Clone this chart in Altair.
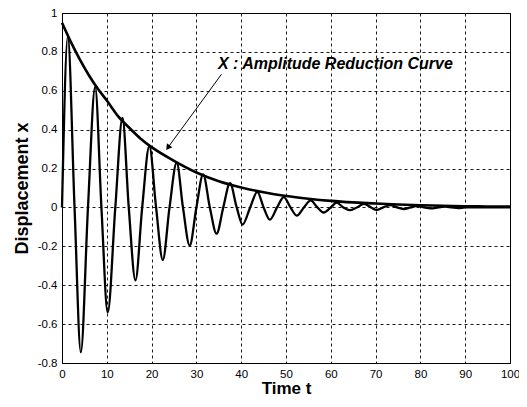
import altair as alt
import pandas as pd

# Damped oscillation: peaks, troughs and zero crossings
t_osc = [0, 1.3, 2.8, 4.2, 5.8, 7.4, 8.8, 10.2, 11.9, 13.5, 14.9, 16.4, 17.9, 19.5,
         21.0, 22.5, 24.0, 25.6, 27.0, 28.5, 30.0, 31.5, 33.0, 34.5, 36.0, 37.5,
         39.0, 40.3, 42.0, 43.6, 45.0, 46.4, 48.0, 49.5, 51.0, 52.4, 54.0, 55.5,
         57.0, 58.4, 60.0, 61.3, 62.8, 64.2, 65.8, 67.4, 69.0, 70.2, 71.7, 73.3,
         74.8, 76.2, 77.8, 79.3, 80.8, 82.3, 84.0, 85.5, 87.0, 88.5, 90.0, 100.0]
x_osc = [0, 0.88, 0, -0.745, 0, 0.62, 0, -0.54, 0, 0.46, 0, -0.375, 0, 0.315,
         0, -0.27, 0, 0.23, 0, -0.196, 0, 0.17, 0, -0.135, 0, 0.125,
         0, -0.088, 0, 0.08, 0, -0.063, 0, 0.053, 0, -0.042, 0, 0.036,
         0, -0.026, 0, 0.025, 0, -0.014, 0, 0.018, 0, -0.013, 0, 0.012,
         0, -0.008, 0, 0.008, 0, -0.005, 0, 0.004, 0, -0.003, 0, 0]

# Amplitude reduction curve (envelope)
t_env = [0, 2, 4, 6, 8, 10, 12.5, 15, 17.5, 20, 25, 30, 35, 40, 45, 50, 55, 60,
         65, 70, 75, 80, 85, 90, 95, 100]
x_env = [0.95, 0.85, 0.76, 0.68, 0.61, 0.55, 0.47, 0.41, 0.355, 0.31, 0.24, 0.18,
         0.135, 0.103, 0.078, 0.059, 0.045, 0.034, 0.026, 0.02, 0.015, 0.011,
         0.009, 0.006, 0.005, 0.004]

x_ticks = [0, 10, 20, 30, 40, 50, 60, 70, 80, 90, 100]
y_ticks = [-0.8, -0.6, -0.4, -0.2, 0, 0.2, 0.4, 0.6, 0.8, 1]

annot_text = "X : Amplitude Reduction Curve"
annot_pos = (34.8, 0.738)
arrow_from = (35.6, 0.685)
arrow_to = (23.77, 0.312)

osc = pd.DataFrame({"t": t_osc, "x": x_osc})
env = pd.DataFrame({"t": t_env, "x": x_env})

xs = alt.Scale(domain=[0, 100], nice=False, zero=False)
ys = alt.Scale(domain=[-0.8, 1], nice=False, zero=False)

xaxis = alt.Axis(values=x_ticks, title="Time t", ticks=False, labelPadding=5,
                 titlePadding=1, titleFontSize=17, labelFontSize=11.5,
                 gridDash=[3, 3], gridColor="black", gridOpacity=1, gridWidth=0.9,
                 labelFlush=False, labelOverlap=False)
yaxis = alt.Axis(values=y_ticks, title="Displacement x", ticks=False, labelPadding=5,
                 titlePadding=6, titleFontSize=18, labelFontSize=11.5,
                 gridDash=[3, 3], gridColor="black", gridOpacity=1, gridWidth=0.9,
                 labelFlush=False, labelOverlap=False,
                 labelExpr="datum.value < 0 ? '-' + format(-datum.value, '~g') : format(datum.value, '~g')")

line_osc = alt.Chart(osc).mark_line(interpolate="monotone", color="black", strokeWidth=2.3).encode(
    x=alt.X("t:Q", scale=xs, axis=xaxis),
    y=alt.Y("x:Q", scale=ys, axis=yaxis),
)
line_env = alt.Chart(env).mark_line(interpolate="monotone", color="black", strokeWidth=2.6).encode(
    x=alt.X("t:Q", scale=xs, axis=xaxis),
    y=alt.Y("x:Q", scale=ys, axis=yaxis),
)

ann = pd.DataFrame({"t": [annot_pos[0]], "x": [annot_pos[1]], "label": [annot_text]})
text = alt.Chart(ann).mark_text(align="left", baseline="middle", fontSize=16,
                                fontWeight="bold", fontStyle="italic",
                                font="Liberation Sans", color="black").encode(
    x=alt.X("t:Q", scale=xs, axis=xaxis), y=alt.Y("x:Q", scale=ys, axis=yaxis), text="label:N")

arr = pd.DataFrame({"t": [arrow_from[0]], "x": [arrow_from[1]],
                    "t2": [arrow_to[0]], "x2": [arrow_to[1]]})
rule = alt.Chart(arr).mark_rule(color="black", strokeWidth=1).encode(
    x=alt.X("t:Q", scale=xs, axis=xaxis), y=alt.Y("x:Q", scale=ys, axis=yaxis),
    x2="t2:Q", y2="x2:Q")
head = alt.Chart(arr).mark_point(shape="triangle", filled=True, color="black",
                                 size=45, angle=216, opacity=1).encode(
    x=alt.X("t2:Q", scale=xs, axis=xaxis), y=alt.Y("x2:Q", scale=ys, axis=yaxis))

chart = alt.layer(line_osc, line_env, rule, head, text).properties(
    width=448, height=350,
    autosize=alt.AutoSizeParams(type="none"),
    padding={"left": 54, "top": 5, "right": 9, "bottom": 36},
).configure_view(stroke="black", strokeWidth=1).configure_axis(
    labelFont="Liberation Sans", titleFont="Liberation Sans",
    labelColor="black", titleColor="black", domainColor="black",
    titleFontWeight="bold", labelFontWeight="normal", labelOverlap=False,
)

chart.save("out.html", embed_options={"renderer": "svg", "actions": False})
